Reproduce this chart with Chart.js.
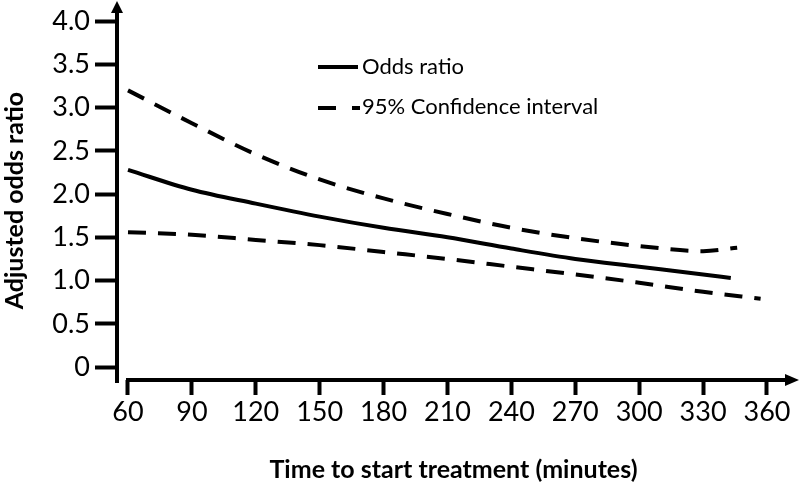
<!DOCTYPE html>
<html>
<head>
<meta charset="utf-8">
<script src="https://cdn.jsdelivr.net/npm/chart.js@4/dist/chart.umd.min.js"></script>
<style>
  html, body { margin: 0; padding: 0; background: #fff; }
  #wrap { width: 800px; height: 490px; }
</style>
</head>
<body>
<div id="wrap"><canvas id="chart" width="800" height="490"></canvas></div>
<script>
// Tick labels
const X_TICKS = [60, 90, 120, 150, 180, 210, 240, 270, 300, 330, 360];
const Y_TICKS = [0, 0.5, 1.0, 1.5, 2.0, 2.5, 3.0, 3.5, 4.0];

// Odds ratio (solid)
const OR_TIME = [60, 90, 120, 150, 180, 210, 240, 270, 300, 330, 343];
const OR_VALUES = [2.28, 2.05, 1.89, 1.74, 1.61, 1.50, 1.37, 1.25, 1.16, 1.07, 1.03];

// 95% CI upper bound (dashed)
const UPPER_TIME = [60, 90, 120, 150, 180, 210, 240, 270, 300, 330, 346];
const UPPER_VALUES = [3.20, 2.82, 2.46, 2.17, 1.95, 1.77, 1.61, 1.49, 1.40, 1.34, 1.38];

// 95% CI lower bound (dashed)
const LOWER_TIME = [60, 90, 120, 150, 180, 210, 240, 270, 300, 330, 357];
const LOWER_VALUES = [1.56, 1.53, 1.47, 1.41, 1.33, 1.25, 1.16, 1.07, 0.975, 0.87, 0.79];

const FONT = 'Lato, "Open Sans", sans-serif';
const toPoints = (xs, ys) => xs.map((x, i) => ({ x, y: ys[i] }));

const lineStyle = {
  borderColor: '#000',
  borderWidth: 4,
  pointRadius: 0,
  tension: 0.4,
  cubicInterpolationMode: 'monotone',
  borderCapStyle: 'butt',
  fill: false
};

// Axis lines with arrowheads + legend
const axesAndLegend = {
  id: 'axesAndLegend',
  afterDraw(chart) {
    const { ctx, chartArea, scales } = chart;
    const ax = chartArea.left;
    const ay = chartArea.bottom;
    ctx.save();
    ctx.strokeStyle = '#000';
    ctx.fillStyle = '#000';
    ctx.lineWidth = 4;

    // y axis
    ctx.beginPath();
    ctx.moveTo(ax, ay + 3);
    ctx.lineTo(ax, 12);
    ctx.stroke();
    ctx.beginPath();
    ctx.moveTo(ax, 1);
    ctx.lineTo(ax - 6, 13);
    ctx.lineTo(ax + 6, 13);
    ctx.closePath();
    ctx.fill();

    // x axis
    const x0 = scales.x.getPixelForValue(X_TICKS[0]) - 2;
    ctx.beginPath();
    ctx.moveTo(x0, ay);
    ctx.lineTo(786, ay);
    ctx.stroke();
    ctx.beginPath();
    ctx.moveTo(799, ay);
    ctx.lineTo(785, ay - 6);
    ctx.lineTo(785, ay + 6);
    ctx.closePath();
    ctx.fill();

    // legend
    ctx.beginPath();
    ctx.moveTo(318, 67);
    ctx.lineTo(358, 67);
    ctx.stroke();
    ctx.beginPath();
    ctx.moveTo(318, 108);
    ctx.lineTo(336, 108);
    ctx.moveTo(352, 108);
    ctx.lineTo(360, 108);
    ctx.stroke();

    ctx.font = '22px ' + FONT;
    ctx.textBaseline = 'middle';
    ctx.textAlign = 'left';
    ctx.fillText('Odds ratio', 362, 67);
    ctx.fillText('95% Confidence interval', 362, 107);
    ctx.restore();
  }
};

new Chart(document.getElementById('chart'), {
  type: 'line',
  data: {
    datasets: [
      { label: 'Odds ratio', data: toPoints(OR_TIME, OR_VALUES), ...lineStyle },
      { label: '95% Confidence interval', data: toPoints(UPPER_TIME, UPPER_VALUES), ...lineStyle, borderDash: [18, 12] },
      { label: '95% Confidence interval (lower)', data: toPoints(LOWER_TIME, LOWER_VALUES), ...lineStyle, borderDash: [18, 12] }
    ]
  },
  options: {
    responsive: false,
    animation: false,
    devicePixelRatio: 1,
    layout: { padding: { top: 20, right: 10, left: 0, bottom: 0 } },
    plugins: { legend: { display: false }, tooltip: { enabled: false } },
    scales: {
      x: {
        type: 'linear',
        min: 54.84,
        max: 370.8,
        afterBuildTicks: s => { s.ticks = X_TICKS.map(v => ({ value: v })); },
        afterFit: s => { s.height = 110; },
        border: { display: false },
        grid: { drawOnChartArea: false, drawTicks: true, tickLength: 15, tickWidth: 4, tickColor: '#000' },
        ticks: { font: { family: FONT, size: 27 }, color: '#000', padding: 1, maxRotation: 0, autoSkip: false },
        title: {
          display: true,
          text: 'Time to start treatment (minutes)',
          color: '#000',
          font: { family: FONT, size: 25, weight: 'bold' },
          padding: { top: 0, bottom: 5 }
        }
      },
      y: {
        min: -0.15,
        max: 4.0,
        afterBuildTicks: s => { s.ticks = Y_TICKS.map(v => ({ value: v })); },
        afterFit: s => { s.width = 117; },
        border: { display: false },
        grid: { drawOnChartArea: false, drawTicks: true, tickLength: 22, tickWidth: 4, tickColor: '#000' },
        ticks: {
          font: { family: FONT, size: 27 },
          color: '#000',
          padding: 5,
          callback: v => (v === 0 ? '0' : v.toFixed(1))
        },
        title: {
          display: true,
          text: 'Adjusted odds ratio',
          color: '#000',
          font: { family: FONT, size: 25, weight: 'bold' },
          padding: { top: 0, bottom: 0 }
        }
      }
    }
  },
  plugins: [axesAndLegend]
});
</script>
</body>
</html>
